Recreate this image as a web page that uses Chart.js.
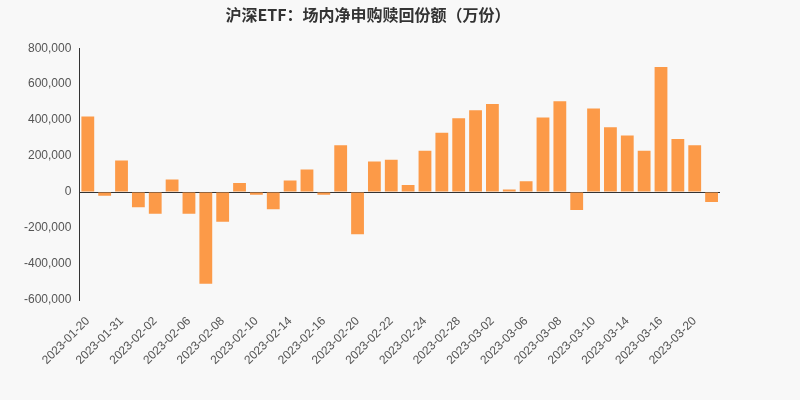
<!DOCTYPE html>
<html lang="zh">
<head>
<meta charset="UTF-8">
<title>沪深ETF</title>
<script src="https://cdn.jsdelivr.net/npm/chart.js@4.4.0/dist/chart.umd.min.js"></script>
<style>
    body{ margin:0; background:#f8f8f8; }
    #wrap{ width:800px; height:400px; }
</style>
</head>
<body>
<div id="wrap"><canvas id="etfChart"></canvas></div>
<script>
var dates = ['2023-01-20','2023-01-30','2023-01-31','2023-02-01','2023-02-02','2023-02-03','2023-02-06','2023-02-07',
    '2023-02-08','2023-02-09','2023-02-10','2023-02-13','2023-02-14','2023-02-15','2023-02-16','2023-02-17',
    '2023-02-20','2023-02-21','2023-02-22','2023-02-23','2023-02-24','2023-02-27','2023-02-28','2023-03-01',
    '2023-03-02','2023-03-03','2023-03-06','2023-03-07','2023-03-08','2023-03-09','2023-03-10','2023-03-13',
    '2023-03-14','2023-03-15','2023-03-16','2023-03-17','2023-03-20','2023-03-21'];
var netFlow = [420000,-20000,175000,-85000,-120000,70000,-120000,-510000,
    -165000,50000,-15000,-95000,65000,125000,-15000,260000,
    -235000,170000,180000,40000,230000,330000,410000,455000,
    490000,15000,60000,415000,505000,-100000,465000,360000,
    315000,230000,695000,295000,260000,-55000];

new Chart(document.getElementById('etfChart'), {
    type: 'bar',
    data: {
        labels: dates,
        datasets: [{ data: netFlow, backgroundColor: '#fc9a48', categoryPercentage: 0.76, barPercentage: 1 }]
    },
    options: {
        responsive: true,
        maintainAspectRatio: false,
        animation: false,
        layout: { padding: { left: 16, right: 80, top: 0, bottom: 0 } },
        plugins: {
            legend: { display: false },
            title: {
                display: true,
                text: '沪深ETF：场内净申购赎回份额（万份）',
                color: '#333',
                font: { size: 16, weight: 'bold', family: 'Noto Sans CJK SC' },
                padding: { top: 5, bottom: 24 }
            }
        },
        scales: {
            x: {
                grid: { display: false },
                border: { display: false },
                ticks: {
                    color: '#555', font: { size: 12 }, maxRotation: 45, minRotation: 45, autoSkip: false,
                    padding: 6,
                    callback: function(v, i) { return i % 2 === 0 ? dates[i] : ''; }
                },
                afterFit: function(s) { s.height = 100; }
            },
            y: {
                min: -600000, max: 800000,
                border: { display: true, color: '#333' },
                grid: {
                    drawTicks: false,
                    color: function(c) { return c.tick && c.tick.value === 0 ? '#333' : 'transparent'; }
                },
                ticks: {
                    stepSize: 200000, color: '#555', font: { size: 12 }, padding: 8,
                    callback: function(v) { return v.toLocaleString('en-US'); }
                }
            }
        }
    }
});
</script>
</body>
</html>
